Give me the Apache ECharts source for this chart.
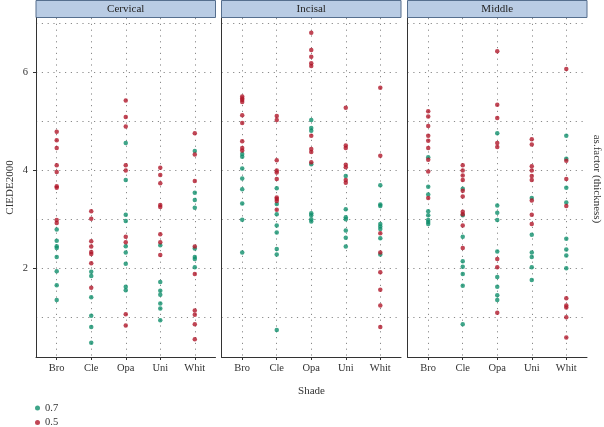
<!DOCTYPE html>
<html>
<head>
<meta charset="utf-8">
<script src="https://cdn.jsdelivr.net/npm/echarts@6/dist/echarts.min.js"></script>
<style>html,body{margin:0;padding:0;background:#fff}#c{width:604px;height:427px}</style>
</head>
<body>
<div id="c"></div>
<script>
const categories = ['Bro', 'Cle', 'Opa', 'Uni', 'Whit'];
const facetNames = ['Cervical', 'Incisal', 'Middle'];
const thicknessLevels = ['0.7', '0.5'];
const yTickLabels = [2, 4, 6];
const yGridValues = [1, 2, 3, 4, 5, 6, 7];

// values per category (Bro, Cle, Opa, Uni, Whit)
const cervical07 = [
  [2.79, 2.56, 2.45, 2.41, 2.23, 1.94, 1.65, 1.35],
  [1.93, 1.84, 1.41, 1.03, 0.80, 0.48],
  [4.55, 3.80, 3.09, 2.96, 2.45, 2.32, 2.09, 1.62, 1.55],
  [2.47, 1.72, 1.54, 1.46, 1.28, 1.18, 0.94],
  [4.39, 3.54, 3.39, 3.23, 2.40, 2.23, 2.19, 2.02]
];
const cervical05 = [
  [4.78, 4.61, 4.45, 4.10, 3.96, 3.67, 3.64, 2.98, 2.92],
  [3.16, 3.01, 2.55, 2.44, 2.33, 2.29, 2.10, 1.60],
  [5.42, 5.08, 4.89, 4.10, 3.99, 2.64, 2.53, 1.06, 0.83],
  [4.05, 3.90, 3.73, 3.29, 3.25, 2.69, 2.53, 2.27],
  [4.75, 4.32, 3.78, 2.44, 1.88, 1.14, 1.05, 0.86, 0.55]
];
const incisal07 = [
  [4.33, 4.27, 4.03, 3.83, 3.61, 3.32, 2.99, 2.32],
  [3.63, 3.31, 3.10, 2.87, 2.73, 2.39, 2.28, 0.74],
  [5.02, 4.86, 4.80, 4.12, 3.12, 3.08, 3.00, 2.95],
  [3.88, 3.20, 3.04, 3.00, 2.77, 2.62, 2.44],
  [3.69, 3.30, 3.27, 2.90, 2.85, 2.80, 2.61, 2.28]
];
const incisal05 = [
  [5.50, 5.46, 5.43, 5.39, 5.12, 4.96, 4.59, 4.45, 4.40],
  [5.10, 5.02, 4.20, 3.99, 3.95, 3.82, 3.44, 3.41, 3.37, 3.19],
  [6.80, 6.45, 6.31, 6.18, 6.12, 4.70, 4.43, 4.37, 4.16],
  [5.27, 4.50, 4.45, 4.11, 4.06, 3.80, 3.74],
  [5.68, 4.29, 2.71, 2.32, 1.92, 1.56, 1.24, 0.80]
];
const middle07 = [
  [4.26, 3.66, 3.50, 3.16, 3.08, 2.98, 2.94, 2.90],
  [3.62, 3.08, 2.64, 2.14, 2.03, 1.88, 1.64, 0.86],
  [4.75, 3.28, 3.13, 2.98, 2.34, 1.82, 1.62, 1.45, 1.35],
  [3.43, 2.68, 2.32, 2.23, 2.02, 1.76],
  [4.70, 4.23, 3.64, 3.34, 2.60, 2.38, 2.26, 2.00]
];
const middle05 = [
  [5.20, 5.09, 4.90, 4.70, 4.60, 4.45, 4.21, 3.97, 3.43],
  [4.10, 3.99, 3.89, 3.80, 3.58, 3.46, 3.15, 3.10, 2.87, 2.41],
  [6.42, 5.33, 5.06, 4.55, 4.47, 2.19, 2.02, 1.09],
  [4.63, 4.52, 4.08, 3.99, 3.88, 3.80, 3.38, 3.09, 2.90],
  [6.06, 4.19, 3.82, 3.27, 1.39, 1.24, 1.20, 1.00, 0.59]
];

const facetData = [[cervical07, cervical05], [incisal07, incisal05], [middle07, middle05]];
const colors = ['#0f8f6c', '#b0182b'];
const FONT = "'Liberation Serif', 'DejaVu Serif', serif";

const gridLefts = [36, 221.5, 407.5];
const gridW = 179.5, gridTop = 18, gridH = 339;
const dotted = { type: [1.2, 4.6], color: '#8a8a8a', width: 1 };

const grids = [], xAxes = [], yAxes = [], series = [], graphics = [];
facetNames.forEach((name, f) => {
  grids.push({ left: gridLefts[f], top: gridTop, width: gridW, height: gridH });
  xAxes.push({
    type: 'value', gridIndex: f, min: -0.6, max: 4.6,
    axisLine: { show: true, onZero: false, lineStyle: { color: '#333', width: 1 } },
    axisTick: { show: true, length: 3, customValues: [0, 1, 2, 3, 4], lineStyle: { color: '#333' } },
    axisLabel: { customValues: [0, 1, 2, 3, 4], formatter: v => categories[Math.round(v)] || '',
      fontFamily: FONT, fontSize: 10.5, color: '#333', margin: 6 },
    splitLine: { show: true, lineStyle: dotted }
  });
  yAxes.push({
    type: 'value', gridIndex: f, min: 0.19, max: 7.1,
    axisLine: { show: true, onZero: false, lineStyle: { color: '#333', width: 1 } },
    axisTick: { show: false, customValues: yGridValues },
    axisLabel: { show: f === 0, customValues: yTickLabels, fontFamily: FONT, fontSize: 10.5, color: '#333', margin: 8 },
    splitLine: { show: true, lineStyle: dotted }
  });
  graphics.push({
    type: 'rect', shape: { x: gridLefts[f], y: 0.5, width: gridW, height: 17 },
    style: { fill: '#b9cce4', stroke: '#566f8e', lineWidth: 1 }
  });
  graphics.push({
    type: 'text', x: gridLefts[f] + gridW / 2, y: 9.5,
    style: { text: name, fontFamily: FONT, fontSize: 11, fill: '#222', align: 'center', verticalAlign: 'middle' }
  });
});
facetNames.forEach((name, f) => {
  yAxes.push({
    type: 'value', gridIndex: f, min: 0.19, max: 7.1, position: 'left',
    axisLine: { show: false, onZero: false },
    axisTick: { show: f === 0, length: 3, customValues: yTickLabels, lineStyle: { color: '#333' } },
    axisLabel: { show: false }, splitLine: { show: false }
  });
});
facetData.forEach((pair, f) => {
  pair.forEach((vals, t) => {
    const data = [];
    vals.forEach((arr, ci) => arr.forEach(v => data.push([ci, v])));
    series.push({
      type: 'scatter', name: thicknessLevels[t], xAxisIndex: f, yAxisIndex: f,
      symbolSize: 4.5, itemStyle: { color: colors[t] }, data: data, silent: true
    });
  });
});

graphics.push({
  type: 'text', x: 10, y: 187.5, rotation: Math.PI / 2,
  style: { text: 'CIEDE2000', fontFamily: FONT, fontSize: 11, fill: '#333', align: 'center', verticalAlign: 'middle' }
});
graphics.push({
  type: 'text', x: 311.5, y: 391.5,
  style: { text: 'Shade', fontFamily: FONT, fontSize: 11, fill: '#333', align: 'center', verticalAlign: 'middle' }
});
graphics.push({
  type: 'text', x: 597, y: 179, rotation: -Math.PI / 2,
  style: { text: 'as.factor (thickness)', fontFamily: FONT, fontSize: 11, fill: '#333', align: 'center', verticalAlign: 'middle' }
});

const chart = echarts.init(document.getElementById('c'), null, { renderer: 'canvas' });
chart.setOption({
  animation: false,
  textStyle: { fontFamily: FONT },
  grid: grids, xAxis: xAxes, yAxis: yAxes, series: series, graphic: graphics,
  legend: {
    data: thicknessLevels, orient: 'vertical', left: 35, top: 402.5, height: 40, width: 60,
    icon: 'circle', itemWidth: 5, itemHeight: 5, itemGap: 3.5,
    textStyle: { fontFamily: FONT, fontSize: 10.5, color: '#333', lineHeight: 11 },
    padding: 0, selectedMode: false
  }
});
</script>
</body>
</html>
